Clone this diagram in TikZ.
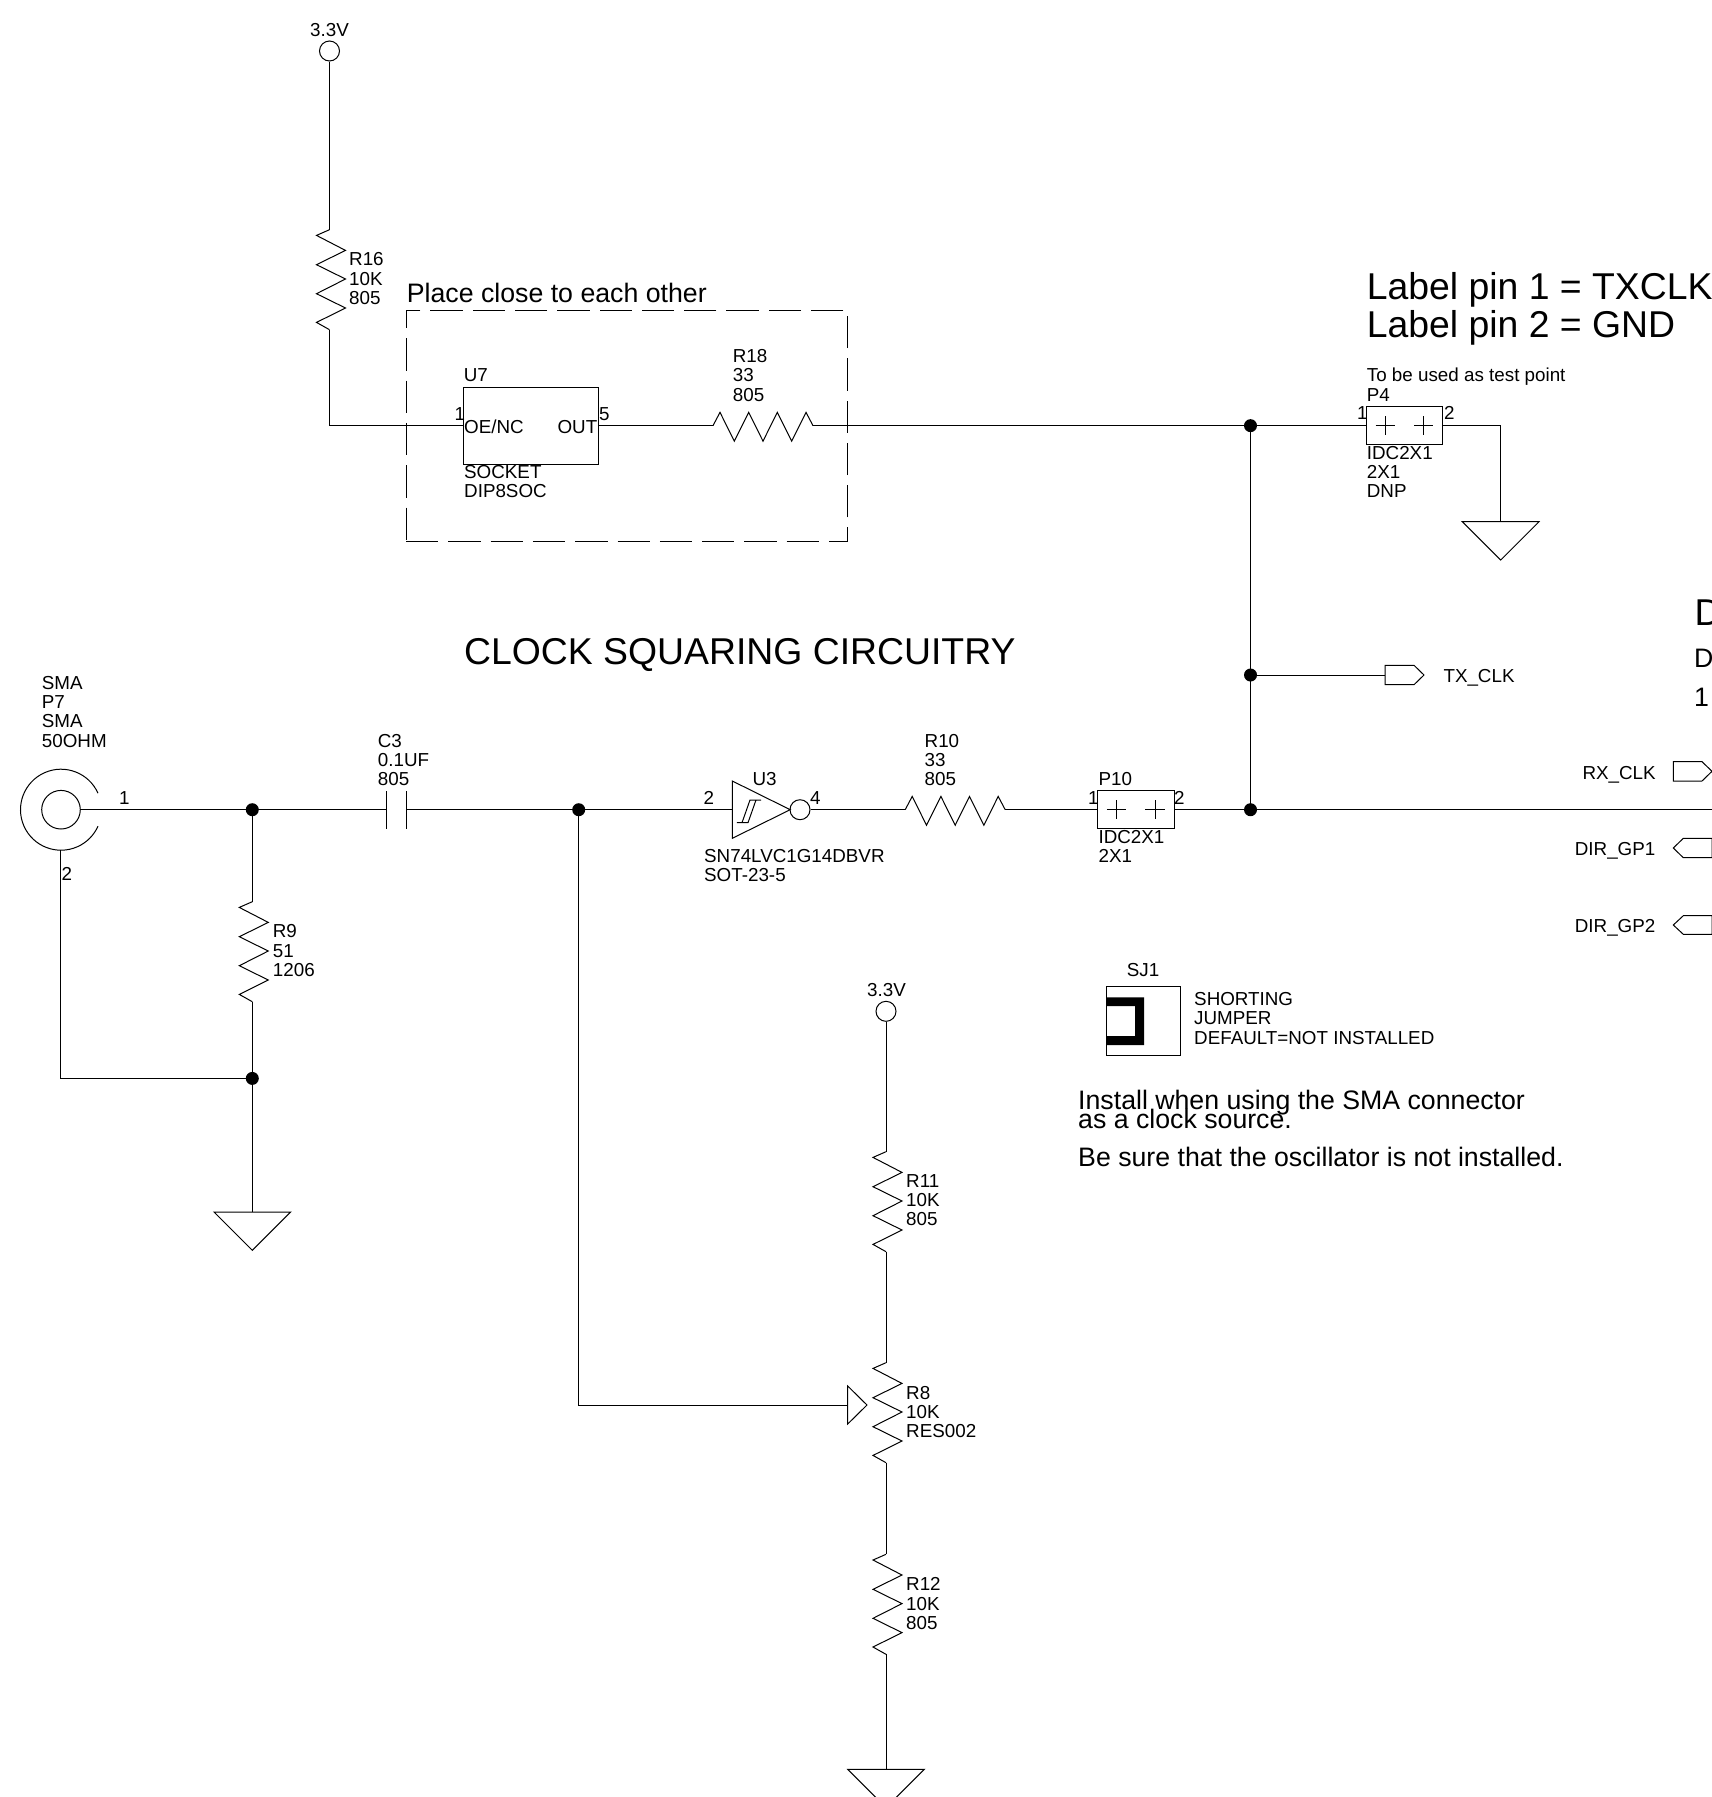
\documentclass[tikz,border=0pt]{standalone}
\usepackage{fontspec}
\setmainfont{Liberation Sans}
\begin{document}
\begin{tikzpicture}[x=1pt,y=-1pt,
  wire/.style={line width=1pt,line join=miter},
  jct/.style={circle,fill=black,inner sep=0pt,minimum size=13pt},
  pwr/.style={circle,draw,line width=1pt,inner sep=0pt,minimum size=20pt},
  partbox/.style={draw,line width=1pt,inner sep=0pt,fill=none},
  tiny/.style={anchor=base west,inner sep=0pt,font=\fontsize{18.8}{19}\selectfont},
  mid/.style={anchor=base west,inner sep=0pt,font=\fontsize{26.7}{30}\selectfont},
  big/.style={anchor=base west,inner sep=0pt,font=\fontsize{37.35}{40}\selectfont},
  resv/.pic={\draw[wire] (0,0) coordinate (-a) -- (-13,5.7) -- (16,20.7) -- (-13,35) -- (16,49.3) -- (-13,64) -- (16,78.3) -- (-13,92.7) -- (0,100) coordinate (-b);},
  resh/.pic={\draw[wire] (0,0) coordinate (-a) -- (7,-13.3) -- (21.3,15.5) -- (35.7,-13.3) -- (50,15.5) -- (64.3,-13.3) -- (78.7,15.5) -- (93,-13.3) -- (100,0) coordinate (-b);},
  gnd/.pic={\draw[wire] (-38.3,0) -- (38.3,0) -- (0,38.3) -- cycle; \coordinate (-t) at (0,0);},
  hdr/.pic={\draw[wire] (-28.9,0) -- ++(19.3,0) (-19.3,-9.6) -- ++(0,19.2) (9.6,0) -- ++(19.3,0) (19.3,-9.6) -- ++(0,19.2);},
]
\useasboundingbox (0,0) rectangle (1712,1797);
\clip (0,0) rectangle (1712,1797);

% --- top supply, R16, U7, R18
\node[pwr] (vcc1) at (329.5,51) {};
\pic (R16) at (329.5,229.7) {resv};
\coordinate (bendA) at (329.5,425.65);
\node[partbox,minimum width=134.6pt,minimum height=76.7pt] (U7) at (530.8,425.65) {};
\pic (R18) at (713,425.65) {resh};
\node[jct] (J1) at (1250.5,425.65) {};
\node[partbox,minimum width=76.4pt,minimum height=38.4pt] (P4) at (1404.5,425.65) {};
\pic at (1404.5,425.65) {hdr};
\coordinate (bendB) at (1500.7,425.65);
\pic (G1) at (1500.7,521.7) {gnd};
\draw[wire] (vcc1.south) -- (R16-a);
\draw[wire] (R16-b) -- (bendA) -- (U7.west);
\draw[wire] (U7.east) -- (R18-a);
\draw[wire] (R18-b) -- (J1.center) -- (P4.west);
\draw[wire] (P4.east) -- (bendB) -- (G1-t);

% --- dashed keep-together frame
\draw[line width=1pt,dash pattern=on 32.3pt off 10pt] (406,541) -- (847.7,541) -- (847.7,310.3) -- (406,310.3) -- cycle;

% --- clock input chain
\coordinate (smaC) at (61,809.7);
\draw[wire] (smaC) ++(24:40.5pt) arc[start angle=24,end angle=336,radius=40.5pt];
\node[circle,draw,line width=1pt,inner sep=0pt,minimum size=38.6pt] (P7) at (61,809.7) {};
\coordinate (smaB) at (60.7,850);
\node[jct] (J2) at (252.3,809.7) {};
\coordinate (C3a) at (386.7,809.7);
\coordinate (C3b) at (406,809.7);
\draw[wire] (386.7,791) -- (386.7,828.7) (406,791) -- (406,828.7);
\node[jct] (J3) at (578.7,809.7) {};
\coordinate (U3in) at (732.3,809.7);
\draw[wire] (732.3,781) -- (790.2,809.7) -- (732.3,838.3) -- cycle;
\draw[wire] (736.8,822.7) -- (748,822.7) -- (756,800) -- (761,800) (742,822.7) -- (750,800) -- (756,800);
\node[pwr] (U3b) at (800,809.7) {};
\pic (R10) at (905.2,809.7) {resh};
\node[partbox,minimum width=76.7pt,minimum height=38pt] (P10) at (1135.7,809.7) {};
\pic at (1135.7,809.7) {hdr};
\node[jct] (J4) at (1250.5,809.7) {};
\node[jct] (J5) at (1250.5,675) {};
\coordinate (edgeE) at (1712,809.7);
\draw[wire] (P7.east) -- (J2.center) -- (C3a);
\draw[wire] (C3b) -- (J3.center) -- (U3in);
\draw[wire] (U3b.east) -- (R10-a);
\draw[wire] (R10-b) -- (P10.west);
\draw[wire] (P10.east) -- (J4.center) -- (edgeE);
\draw[wire] (J1.center) -- (J4.center);

% --- termination R9
\pic (R9) at (252.3,901.7) {resv};
\node[jct] (J6) at (252.3,1078.4) {};
\pic (G2) at (252.3,1212) {gnd};
\coordinate (bendC) at (60.7,1078.4);
\draw[wire] (J2.center) -- (R9-a);
\draw[wire] (R9-b) -- (J6.center) -- (G2-t);
\draw[wire] (smaB) -- (bendC) -- (J6.center);

% --- off-sheet flags
\draw[wire] (1385,665.3) -- (1414,665.3) -- (1424,675) -- (1414,684.7) -- (1385,684.7) -- cycle;
\coordinate (TXf) at (1385,675);
\draw[wire] (J5.center) -- (TXf);
\draw[wire] (1673.3,761.7) -- (1702,761.7) -- (1712,771.3) -- (1702,781) -- (1673.3,781) -- cycle;
\draw[wire] (1712,838.3) -- (1683.3,838.3) -- (1673.3,848) -- (1683.3,857.7) -- (1712,857.7) -- cycle;
\draw[wire] (1712,915.7) -- (1683.3,915.7) -- (1673.3,925) -- (1683.3,934.3) -- (1712,934.3) -- cycle;

% --- bias ladder
\node[pwr] (vcc2) at (886,1011.3) {};
\pic (R11) at (886,1151.7) {resv};
\pic (R8) at (886,1362.7) {resv};
\pic (R12) at (886,1554.3) {resv};
\pic (G3) at (886,1769.3) {gnd};
\draw[wire] (847.7,1386) -- (867,1405) -- (847.7,1424) -- cycle;
\coordinate (R8w) at (847.7,1405);
\coordinate (bendD) at (578.7,1405);
\draw[wire] (vcc2.south) -- (R11-a);
\draw[wire] (R11-b) -- (R8-a);
\draw[wire] (R8-b) -- (R12-a);
\draw[wire] (R12-b) -- (G3-t);
\draw[wire] (J3.center) -- (bendD) -- (R8w);

% --- shorting jumper
\node[partbox,minimum width=73.3pt,minimum height=69pt] (SJ1) at (1143.4,1020.8) {};
\fill (1106.7,997.3) -- (1144,997.3) -- (1144,1045) -- (1106.7,1045) -- (1106.7,1036) -- (1135,1036) -- (1135,1006) -- (1106.7,1006) -- cycle;

% --- texts
\node[tiny] (t1) at (310,36) {3.3V};
\node[tiny] (t2) at (349,265.7) {R16};
\node[tiny] (t3) at (349,285) {10K};
\node[tiny] (t4) at (349,304) {805};
\node[mid] (t5) at (406.7,302.7) {Place close to each other};
\node[tiny] (t6) at (463.7,381.7) {U7};
\node[tiny] (t7) at (454.3,420) {1};
\node[tiny] (t8) at (464,433.3) {OE/NC};
\node[tiny,anchor=base east] (t9) at (597.5,433.3) {OUT};
\node[tiny] (t10) at (599,420) {5};
\node[tiny] (t11) at (464,478.3) {SOCKET};
\node[tiny] (t12) at (464,497.3) {DIP8SOC};
\node[tiny] (t13) at (732.7,362.7) {R18};
\node[tiny] (t14) at (732.7,381.7) {33};
\node[tiny] (t15) at (732.7,401) {805};
\node[big] (t16) at (1366.7,299.3) {Label pin 1 = TXCLK};
\node[big] (t17) at (1366.7,337.3) {Label pin 2 = GND};
\node[tiny] (t18) at (1366.7,381.7) {To be used as test point};
\node[tiny] (t19) at (1366.7,401) {P4};
\node[tiny] (t20) at (1357,419.3) {1};
\node[tiny] (t21) at (1444,419.3) {2};
\node[tiny] (t22) at (1366.7,459) {IDC2X1};
\node[tiny] (t23) at (1366.7,478.3) {2X1};
\node[tiny] (t24) at (1366.7,497.3) {DNP};
\node[big] (t25) at (464,664) {CLOCK SQUARING CIRCUITRY};
\node[big] (t26) at (1694.3,625.7) {D};
\node[mid] (t27) at (1694,667.3) {D};
\node[mid] (t28) at (1694,706) {1};
\node[tiny] (t29) at (1443.3,682.3) {TX\_CLK};
\node[tiny] (t30) at (1582.3,779) {RX\_CLK};
\node[tiny] (t31) at (1574.7,855) {DIR\_GP1};
\node[tiny] (t32) at (1574.7,932.3) {DIR\_GP2};
\node[tiny] (t33) at (41.7,689.3) {SMA};
\node[tiny] (t34) at (41.7,708.3) {P7};
\node[tiny] (t35) at (41.7,727.3) {SMA};
\node[tiny] (t36) at (41.7,747.3) {50OHM};
\node[tiny] (t37) at (119,804) {1};
\node[tiny] (t38) at (61.3,880.7) {2};
\node[tiny] (t39) at (377.7,747.3) {C3};
\node[tiny] (t40) at (377.7,766) {0.1UF};
\node[tiny] (t41) at (377.7,785) {805};
\node[tiny] (t42) at (272.7,937.7) {R9};
\node[tiny] (t43) at (272.7,957) {51};
\node[tiny] (t44) at (272.7,976) {1206};
\node[tiny] (t45) at (752.3,785) {U3};
\node[tiny] (t46) at (703.4,804) {2};
\node[tiny] (t47) at (809.8,804) {4};
\node[tiny] (t48) at (704,862.3) {SN74LVC1G14DBVR};
\node[tiny] (t49) at (704,881) {SOT-23-5};
\node[tiny] (t50) at (924.5,747.3) {R10};
\node[tiny] (t51) at (924.5,766) {33};
\node[tiny] (t52) at (924.5,785) {805};
\node[tiny] (t53) at (1098.4,785) {P10};
\node[tiny] (t54) at (1088,804) {1};
\node[tiny] (t55) at (1174,804) {2};
\node[tiny] (t56) at (1098.4,843.3) {IDC2X1};
\node[tiny] (t57) at (1098.4,862) {2X1};
\node[tiny] (t58) at (1126.7,976.7) {SJ1};
\node[tiny] (t59) at (1194,1005.7) {SHORTING};
\node[tiny] (t60) at (1194,1024.7) {JUMPER};
\node[tiny] (t61) at (1194,1044) {DEFAULT=NOT INSTALLED};
\node[mid] (t62) at (1078,1109.3) {Install when using the SMA connector};
\node[mid] (t63) at (1078,1128.3) {as a clock source.};
\node[mid] (t64) at (1078,1166) {Be sure that the oscillator is not installed.};
\node[tiny] (t65) at (867,996) {3.3V};
\node[tiny] (t66) at (906,1187.3) {R11};
\node[tiny] (t67) at (906,1206.5) {10K};
\node[tiny] (t68) at (906,1225.5) {805};
\node[tiny] (t69) at (906,1399) {R8};
\node[tiny] (t70) at (906,1418) {10K};
\node[tiny] (t71) at (906,1437) {RES002};
\node[tiny] (t72) at (906,1590.7) {R12};
\node[tiny] (t73) at (906,1610) {10K};
\node[tiny] (t74) at (906,1629) {805};
\end{tikzpicture}
\end{document}
